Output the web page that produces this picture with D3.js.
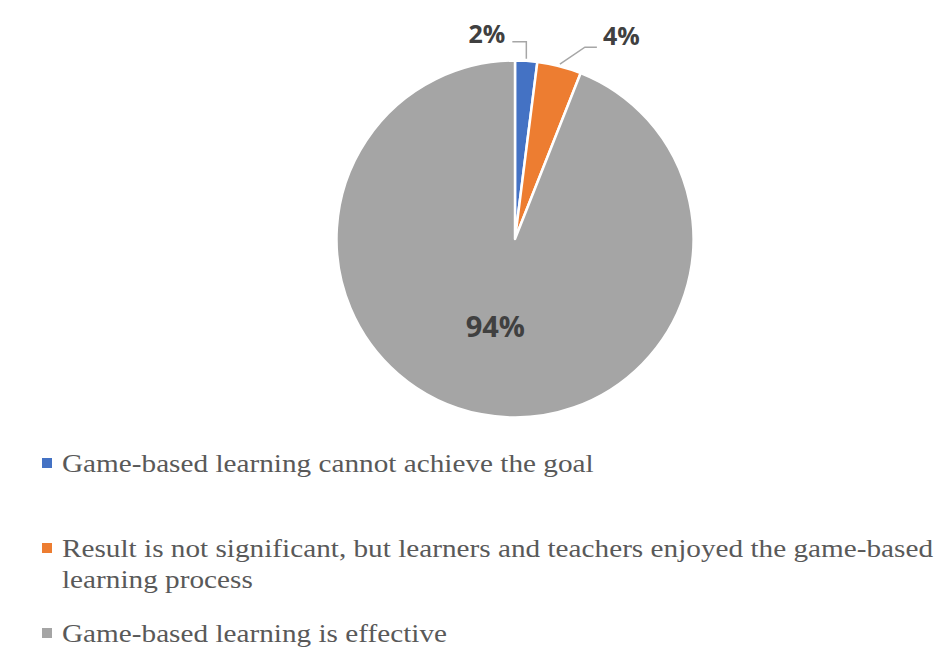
<!DOCTYPE html>
<html>
<head>
<meta charset="utf-8">
<script src="https://cdn.jsdelivr.net/npm/d3@7"></script>
<style>
  body { margin: 0; background: #fff; }
</style>
</head>
<body>
<div id="chart"></div>
<script>
const width = 945;
const height = 653;

// slice data, in drawing order (clockwise from 12 o'clock)
const categories = [
  'Game-based learning cannot achieve the goal',
  'Result is not significant, but learners and teachers enjoyed the game-based learning process',
  'Game-based learning is effective'
];
const values = [2, 4, 94];
const labels = ['2%', '4%', '94%'];
const colors = ['#4472C4', '#ED7D31', '#A5A5A5'];

// legend lines (the long one wraps in the original)
const legendLines = [
  ['Game-based learning cannot achieve the goal'],
  ['Result is not significant, but learners and teachers enjoyed the game-based', 'learning process'],
  ['Game-based learning is effective']
];

const cx = 515, cy = 239, radius = 178.5;

const svg = d3.select('#chart')
  .append('svg')
  .attr('width', width)
  .attr('height', height)
  .attr('viewBox', `0 0 ${width} ${height}`);

const pie = d3.pie().sort(null).value(d => d.value);
const arcs = pie(values.map((v, i) => ({ value: v, label: labels[i], color: colors[i], name: categories[i] })));

const arc = d3.arc().innerRadius(0).outerRadius(radius);

const g = svg.append('g').attr('transform', `translate(${cx},${cy})`);

g.selectAll('path.slice')
  .data(arcs)
  .join('path')
  .attr('class', 'slice')
  .attr('d', arc)
  .attr('fill', d => d.data.color)
  .attr('stroke', '#fff')
  .attr('stroke-width', 2.5)
  .attr('stroke-linejoin', 'round');

// point on the rim at the slice's middle angle
function rim(d, r) {
  const a = (d.startAngle + d.endAngle) / 2;
  return [Math.sin(a) * r, -Math.cos(a) * r];
}

// small slices get outside labels with leader lines
const small = arcs.slice(0, 2);
const leaderStyle = [
  { up: 17, over: 0, run: -14, side: 'end', lift: 8 },    // 2%: straight up then left
  { up: 17, over: 25, run: 12, side: 'start', lift: 11 }  // 4%: out diagonally then right
];

small.forEach((d, i) => {
  const s = leaderStyle[i];
  const p0 = rim(d, radius + 2);
  const p1 = [p0[0] + s.over, p0[1] - s.up];
  const p2 = [p1[0] + s.run, p1[1]];
  g.append('path')
    .attr('d', d3.line()([p0, p1, p2]))
    .attr('fill', 'none')
    .attr('stroke', '#A6A6A6')
    .attr('stroke-width', 1.5);
  g.append('text')
    .attr('x', p2[0] + (s.side === 'end' ? -7 : 6))
    .attr('y', p2[1] - s.lift)
    .attr('dy', '0.35em')
    .attr('text-anchor', s.side)
    .attr('font-family', '"Open Sans", "DejaVu Sans", sans-serif')
    .attr('font-weight', 'bold')
    .attr('font-size', 25)
    .attr('fill', '#404040')
    .text(d.data.label);
});

// big slice label inside, at its centroid
const big = arcs[2];
const c = arc.centroid(big);
g.append('text')
  .attr('x', c[0] - 3)
  .attr('y', c[1])
  .attr('dy', '0.36em')
  .attr('text-anchor', 'middle')
  .attr('font-family', '"Open Sans", "DejaVu Sans", sans-serif')
  .attr('font-weight', 'bold')
  .attr('font-size', 29)
  .attr('fill', '#404040')
  .text(big.data.label);

// legend (the original text is a little wider than plain Times, so stretch it)
const legendTop = [458, 543, 628];
const textX = 62, stretch = 1.125;
const legend = svg.append('g');
legendLines.forEach((lines, i) => {
  legend.append('rect')
    .attr('x', 42)
    .attr('y', legendTop[i])
    .attr('width', 10)
    .attr('height', 10)
    .attr('fill', colors[i]);
  lines.forEach((t, j) => {
    const y = legendTop[i] + 14 + j * 31;
    legend.append('text')
      .attr('transform', `translate(${textX},${y}) scale(${stretch},1)`)
      .attr('font-family', '"Liberation Serif", "Times New Roman", serif')
      .attr('font-size', 26)
      .attr('fill', '#595959')
      .text(t);
  });
});
</script>
</body>
</html>
